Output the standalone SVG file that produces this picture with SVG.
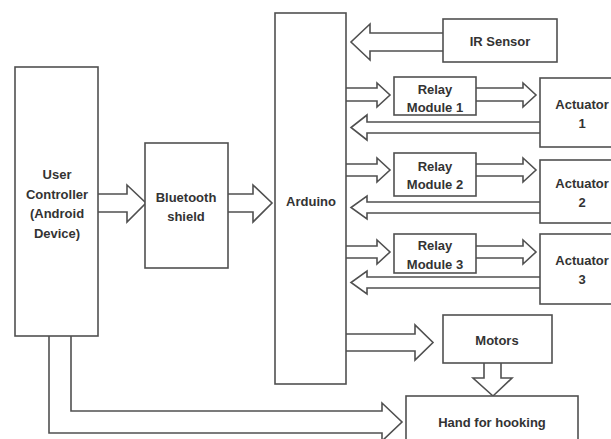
<svg xmlns="http://www.w3.org/2000/svg" width="611" height="439" viewBox="0 0 611 439">
<style>
.box{fill:#fff;stroke:#505050;stroke-width:1.6}
.arr{fill:none;stroke:#505050;stroke-width:1.6;stroke-linejoin:miter}
text{font-family:"Liberation Sans",Arial,sans-serif;font-weight:bold;font-size:13px;fill:#333;text-anchor:middle;dominant-baseline:central}
</style>
<rect width="611" height="439" fill="#fff"/>
<g id="connectors">
<path class="arr" d="M98,194 L127,194 L127,185 L146,203 L127,222 L127,212 L98,212"/>
<path class="arr" d="M228,194 L253,194 L253,185 L272,203 L253,222 L253,212 L228,212"/>
<path class="arr" d="M443,33 L370,33 L370,24 L351,42 L370,60 L370,51 L443,51"/>
<path class="arr" d="M346,88 L377,88 L377,83 L390,95 L377,107 L377,101 L346,101"/>
<path class="arr" d="M476,88 L523,88 L523,83 L536,95 L523,107 L523,101 L476,101"/>
<path class="arr" d="M540,122 L367,122 L367,115 L351,127.5 L367,140 L367,133 L540,133"/>
<path class="arr" d="M346,164 L377,164 L377,158 L390,170 L377,182 L377,176 L346,176"/>
<path class="arr" d="M476,164 L523,164 L523,158 L536,170 L523,182 L523,176 L476,176"/>
<path class="arr" d="M540,202 L367,202 L367,196 L351,207.5 L367,219 L367,213 L540,213"/>
<path class="arr" d="M346,246 L377,246 L377,240 L390,252 L377,264 L377,258 L346,258"/>
<path class="arr" d="M476,246 L523,246 L523,240 L536,252 L523,264 L523,258 L476,258"/>
<path class="arr" d="M540,277 L367,277 L367,271 L351,282.5 L367,294 L367,288 L540,288"/>
<path class="arr" d="M346,334 L415,334 L415,325 L433,342.5 L415,360 L415,351 L346,351"/>
<path class="arr" d="M484,363 L484,378 L473,378 L493,396 L512,378 L501,378 L501,363"/>
<path class="arr" d="M71,336 L71,411 L382,411 L382,403 L402,422 L382,441 L382,433 L49,433 L49,336"/>
</g>
<g id="user-controller">
<rect class="box" x="15" y="67" width="83" height="269"/>
<text x="57" y="174">User</text>
<text x="57" y="194">Controller</text>
<text x="57" y="213">(Android</text>
<text x="57" y="233">Device)</text>
</g>
<g id="bluetooth">
<rect class="box" x="145" y="143" width="83" height="125"/>
<text x="186" y="197">Bluetooth</text>
<text x="186" y="216">shield</text>
</g>
<g id="arduino">
<rect class="box" x="275" y="13" width="71" height="371"/>
<text x="311" y="201">Arduino</text>
</g>
<g id="ir-sensor">
<rect class="box" x="443" y="19" width="114" height="43"/>
<text x="500" y="41">IR Sensor</text>
</g>
<g id="relay1">
<rect class="box" x="394" y="77" width="82" height="38"/>
<text x="435" y="89">Relay</text>
<text x="435" y="107">Module 1</text>
</g>
<g id="relay2">
<rect class="box" x="394" y="153" width="82" height="43"/>
<text x="435" y="166">Relay</text>
<text x="435" y="184">Module 2</text>
</g>
<g id="relay3">
<rect class="box" x="394" y="234" width="82" height="39"/>
<text x="435" y="245">Relay</text>
<text x="435" y="264">Module 3</text>
</g>
<g id="actuator1">
<rect class="box" x="540" y="78" width="90" height="69"/>
<text x="582" y="104">Actuator</text>
<text x="582" y="123">1</text>
</g>
<g id="actuator2">
<rect class="box" x="540" y="160" width="90" height="63"/>
<text x="582" y="183">Actuator</text>
<text x="582" y="202">2</text>
</g>
<g id="actuator3">
<rect class="box" x="540" y="234" width="90" height="70"/>
<text x="582" y="260">Actuator</text>
<text x="582" y="279">3</text>
</g>
<g id="motors">
<rect class="box" x="443" y="315" width="109" height="48"/>
<text x="497" y="340">Motors</text>
</g>
<g id="hand">
<rect class="box" x="406" y="396" width="172" height="60"/>
<text x="492" y="422">Hand for hooking</text>
</g>
</svg>
